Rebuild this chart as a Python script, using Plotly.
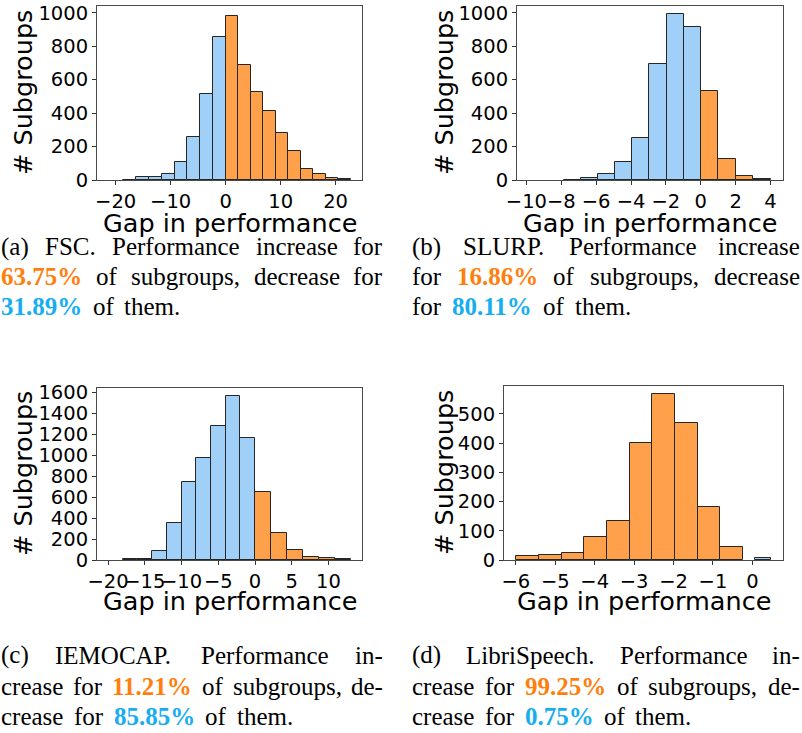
import plotly.graph_objects as go

# ---------------- data ----------------
# (a) FSC
a_blue_start, a_blue_width = -18.6, 2.327
a_blue_counts = [3, 18, 18, 38, 110, 255, 512, 855]
a_orange_start, a_orange_width = 0.0, 2.28
a_orange_counts = [982, 688, 525, 412, 278, 172, 64, 38, 14, 8]
a_xticks = [-20, -10, 0, 10, 20]
a_yticks = [0, 200, 400, 600, 800, 1000]

# (b) SLURP
b_blue_start, b_blue_width = -7.86, 0.983
b_blue_counts = [3, 10, 38, 105, 252, 694, 990, 916]
b_orange_start, b_orange_width = 0.0, 1.004
b_orange_counts = [530, 128, 25, 5]
b_xticks = [-10, -8, -6, -4, -2, 0, 2, 4]
b_yticks = [0, 200, 400, 600, 800, 1000]

# (c) IEMOCAP
c_blue_start, c_blue_width = -18.0, 2.0
c_blue_counts = [6, 13, 83, 350, 741, 970, 1275, 1565, 1161]
c_orange_start, c_orange_width = 0.0, 2.17
c_orange_counts = [651, 255, 95, 29, 16, 5]
c_xticks = [-20, -15, -10, -5, 0, 5, 10]
c_yticks = [0, 200, 400, 600, 800, 1000, 1200, 1400, 1600]

# (d) LibriSpeech
d_orange_start, d_orange_width = -5.985, 0.5747
d_orange_counts = [12, 16, 23, 77, 135, 401, 568, 469, 180, 43]
d_blue_start, d_blue_width = 0.06, 0.41
d_blue_counts = [8]
d_xticks = [-6, -5, -4, -3, -2, -1, 0]
d_yticks = [0, 100, 200, 300, 400, 500]

x_title = "Gap in performance"
y_title = "# Subgroups"

ORANGE_TXT = "#FF7F0E"
BLUE_TXT = "#17AEEF"
captions = {
    "a": [
        [("(a)",), ("FSC.",), ("Performance",), ("increase",), ("for",)],
        [("63.75%", ORANGE_TXT), ("of",), ("subgroups,",), ("decrease",), ("for",)],
        [("31.89%", BLUE_TXT), ("of",), ("them.",)],
    ],
    "b": [
        [("(b)",), ("SLURP.",), ("Performance",), ("increase",)],
        [("for",), ("16.86%", ORANGE_TXT), ("of",), ("subgroups,",), ("decrease",)],
        [("for",), ("80.11%", BLUE_TXT), ("of",), ("them.",)],
    ],
    "c": [
        [("(c)",), ("IEMOCAP.",), ("Performance",), ("in-",)],
        [("crease",), ("for",), ("11.21%", ORANGE_TXT), ("of",), ("subgroups,",), ("de-",)],
        [("crease",), ("for",), ("85.85%", BLUE_TXT), ("of",), ("them.",)],
    ],
    "d": [
        [("(d)",), ("LibriSpeech.",), ("Performance",), ("in-",)],
        [("crease",), ("for",), ("99.25%", ORANGE_TXT), ("of",), ("subgroups,",), ("de-",)],
        [("crease",), ("for",), ("0.75%", BLUE_TXT), ("of",), ("them.",)],
    ],
}

# ---------------- style / layout ----------------
W, H = 802, 733
BAR_BLUE = "#A0CFF8"
BAR_ORANGE = "#FFA04A"
EDGE = "#262626"
SPINE = "#4a4a4a"
TICK_FONT = dict(family="DejaVu Sans", size=19.5, color="black")
TITLE_FONT = dict(family="DejaVu Sans", size=25.5, color="black")
CAP_FONT_SIZE = 25


def PX(x):
    return x / W


def PY(y):
    return 1 - y / H


panels = {
    # name: (axis suffix, left, right, top, bottom px, xrange, yrange, xticks, yticks, title offset)
    "a": ("", 97, 362, 6, 180, [-23.4, 24.8], [0, 1040], a_xticks, a_yticks, 43),
    "b": ("2", 517, 783, 6, 180, [-10.54, 4.72], [0, 1040], b_xticks, b_yticks, 43),
    "c": ("3", 97, 362, 388, 560, [-21.5, 14.56], [0, 1640], c_xticks, c_yticks, 41),
    "d": ("4", 504, 783, 386, 560, [-6.30, 0.776], [0, 595], d_xticks, d_yticks, 41),
}

series = {
    "a": [(a_blue_start, a_blue_width, a_blue_counts, BAR_BLUE),
          (a_orange_start, a_orange_width, a_orange_counts, BAR_ORANGE)],
    "b": [(b_blue_start, b_blue_width, b_blue_counts, BAR_BLUE),
          (b_orange_start, b_orange_width, b_orange_counts, BAR_ORANGE)],
    "c": [(c_blue_start, c_blue_width, c_blue_counts, BAR_BLUE),
          (c_orange_start, c_orange_width, c_orange_counts, BAR_ORANGE)],
    "d": [(d_orange_start, d_orange_width, d_orange_counts, BAR_ORANGE),
          (d_blue_start, d_blue_width, d_blue_counts, BAR_BLUE)],
}

fig = go.Figure()
layout = dict(
    width=W, height=H, margin=dict(l=0, r=0, t=0, b=0, autoexpand=False),
    paper_bgcolor="white", plot_bgcolor="white",
    showlegend=False, barmode="overlay", bargap=0,
)
annotations = []

for key, (sfx, l, r, t, b, xr, yr, xt, yt, toff) in panels.items():
    xa, ya = "xaxis" + sfx, "yaxis" + sfx
    xref, yref = "x" + sfx, "y" + sfx
    common = dict(showline=True, mirror=True, linecolor=SPINE, linewidth=1,
                  ticks="outside", ticklen=4, tickcolor="#333", tickwidth=1,
                  showgrid=False, zeroline=False, tickfont=TICK_FONT, tickangle=0,
                  automargin=False)
    layout[xa] = dict(domain=[PX(l), PX(r)], anchor=yref, range=xr,
                      tickmode="array", tickvals=xt, **common)
    layout[ya] = dict(domain=[PY(b), PY(t)], anchor=xref, range=yr,
                      tickmode="array", tickvals=yt, **common)
    for start, width, counts, color in series[key]:
        centers = [start + width * (i + 0.5) for i in range(len(counts))]
        fig.add_trace(go.Bar(
            x=centers, y=counts, width=[width] * len(counts),
            marker=dict(color=color, line=dict(color=EDGE, width=1)),
            xaxis=xref, yaxis=yref, hoverinfo="x+y",
        ))
    # axis titles
    annotations.append(dict(text=x_title, x=PX((l + r) / 2), y=PY(b + toff),
                            xref="paper", yref="paper", showarrow=False,
                            xanchor="center", yanchor="middle", font=TITLE_FONT))
    ycx = 23 if key in ("a", "c") else 444
    annotations.append(dict(text=y_title, x=PX(ycx), y=PY((t + b) / 2),
                            xref="paper", yref="paper", showarrow=False, textangle=-90,
                            xanchor="center", yanchor="middle", font=TITLE_FONT))

# ---------------- captions (justified like the LaTeX source) ----------------
REG = {' ': 250, '(': 333, ')': 333, '.': 250, ',': 250, '-': 333, '%': 833,
       'a': 444, 'b': 500, 'c': 444, 'd': 500, 'e': 444, 'f': 333, 'g': 500, 'h': 500,
       'i': 278, 'm': 778, 'n': 500, 'o': 500, 'p': 500, 'r': 333, 's': 389, 't': 278,
       'u': 500, 'A': 722, 'C': 667, 'E': 611, 'F': 556, 'I': 333, 'L': 611, 'M': 889,
       'O': 722, 'P': 556, 'R': 667, 'S': 556, 'U': 722}
BOLD = {'.': 250, '%': 1000}


def wwidth(word, bold):
    tot = 0
    for ch in word:
        if ch.isdigit():
            tot += 500
        elif bold and ch in BOLD:
            tot += BOLD[ch]
        else:
            tot += REG.get(ch, 500)
    return tot * CAP_FONT_SIZE / 1000


cap_geom = {
    "a": (1, 383, [247, 277, 307]),
    "b": (412, 800, [247, 277, 307]),
    "c": (1, 383, [655, 686, 716]),
    "d": (412, 800, [655, 686, 716]),
}

for key, lines in captions.items():
    left, right, ys = cap_geom[key]
    for li, words in enumerate(lines):
        widths = [wwidth(w[0], len(w) > 1) for w in words]
        justified = li < len(lines) - 1
        if justified:
            gap = (right - left - sum(widths)) / (len(words) - 1)
        else:
            gap = 0.42 * CAP_FONT_SIZE
        x = left
        for wi, w in enumerate(words):
            txt = w[0]
            color = "black"
            if len(w) > 1:
                color = w[1]
                txt = "<b>" + txt + "</b>"
            last = justified and wi == len(words) - 1
            annotations.append(dict(
                text=txt, x=PX(right if last else x), y=PY(ys[li]),
                xref="paper", yref="paper", showarrow=False,
                xanchor="right" if last else "left", yanchor="middle",
                borderpad=0, borderwidth=0,
                font=dict(family="Liberation Serif", size=CAP_FONT_SIZE, color=color)))
            x += widths[wi] + gap

layout["annotations"] = annotations
fig.update_layout(**layout)
fig.write_html("out.html")
